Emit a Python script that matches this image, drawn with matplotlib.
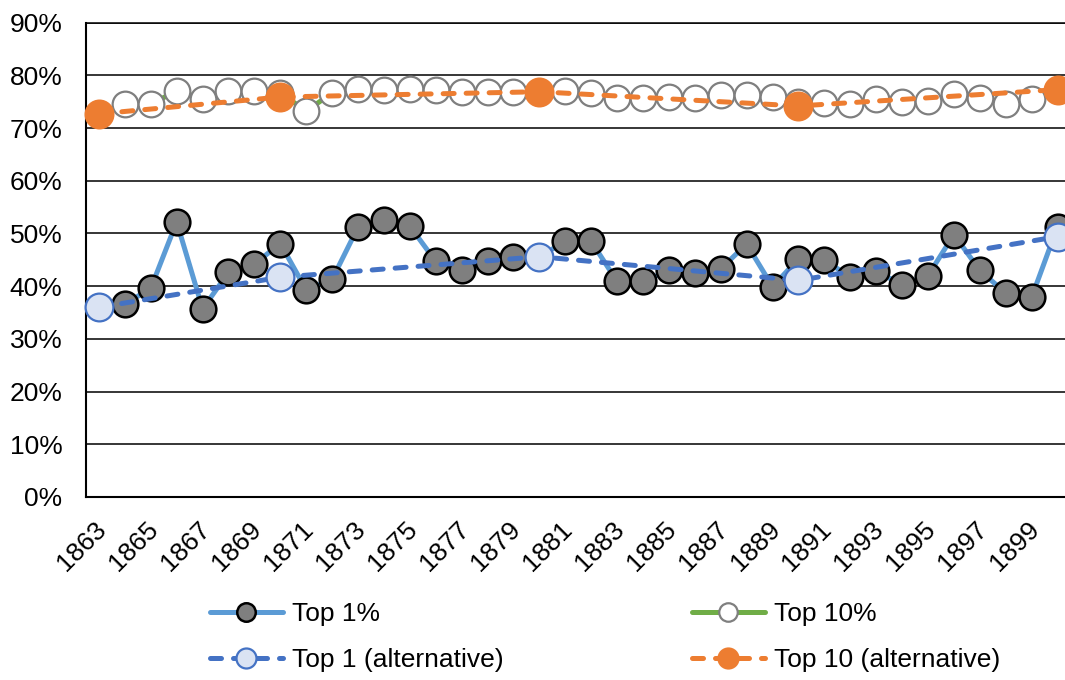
import numpy as np
import matplotlib
matplotlib.use("Agg")
import matplotlib.pyplot as plt
from matplotlib.ticker import FuncFormatter
from matplotlib.transforms import ScaledTranslation

plt.rcParams['font.family'] = ['Liberation Sans', 'DejaVu Sans']

years = list(range(1863, 1901))

top1 = [36.0, 36.6, 39.6, 52.2, 35.7, 42.6, 44.2, 48.1, 39.3, 41.3,
        51.2, 52.6, 51.4, 44.7, 43.1, 44.7, 45.6, 45.6, 48.5, 48.5,
        40.9, 40.9, 43.0, 42.5, 43.3, 48.0, 39.9, 45.2, 44.9, 41.8,
        42.8, 40.3, 42.0, 49.8, 43.0, 38.7, 37.9, 51.3]

top10 = [72.7, 74.6, 74.5, 77.1, 75.6, 77.1, 77.0, 76.7, 73.2, 76.7,
         77.4, 77.3, 77.4, 77.3, 76.9, 76.9, 76.9, 76.9, 77.0, 76.7,
         75.7, 75.7, 75.9, 75.7, 76.2, 76.3, 75.9, 75.0, 74.8, 74.5,
         75.6, 75.0, 75.1, 76.5, 75.7, 74.6, 75.6, 77.3]

alt_years = [1863, 1870, 1880, 1890, 1900]
top1_alt = [36.0, 41.7, 45.6, 41.1, 49.4]
top10_alt = [72.7, 75.9, 76.9, 74.2, 77.3]

xtick_years = list(range(1863, 1900, 2))
yticks = [0, 10, 20, 30, 40, 50, 60, 70, 80, 90]

W, H = 1065, 680
fig = plt.figure(figsize=(W / 100, H / 100), dpi=100)
ax = fig.add_axes([86 / W, 1 - 497 / H, 984.5 / W, (497 - 22.7) / H])

FS = 19

l1, = ax.plot(years, top1, color='#5B9BD5', lw=3.6, solid_capstyle='round',
              marker='o', ms=18.5, mfc='#7F7F7F', mec='black', mew=1.8, zorder=3,
              label='Top 1%')
l10, = ax.plot(years, top10, color='#70AD47', lw=3.6, solid_capstyle='round',
               marker='o', ms=18.5, mfc='white', mec='#7F7F7F', mew=1.6, zorder=4,
               label='Top 10%')
l1a, = ax.plot(alt_years, top1_alt, color='#4472C4', lw=3.6, ls=(0, (2.2, 2.4)),
               dash_capstyle='round', marker='o', ms=20, mfc='#DAE3F3', mec='#4472C4',
               mew=1.6, zorder=5, label='Top 1 (alternative)')
l10a, = ax.plot(alt_years, top10_alt, color='#ED7D31', lw=3.6, ls=(0, (2.2, 2.4)),
                dash_capstyle='round', marker='o', ms=20, mfc='#ED7D31', mec='#ED7D31',
                mew=1.6, zorder=6, label='Top 10 (alternative)')

for l in (l1, l10, l1a, l10a):
    l.set_clip_on(False)

ax.set_xlim(1862.5, 1900.5)
ax.set_ylim(0, 90)
ax.set_yticks(yticks)
ax.yaxis.set_major_formatter(FuncFormatter(lambda v, p: f"{int(round(v))}%"))
ax.set_xticks(xtick_years)
ax.set_xticklabels([str(y) for y in xtick_years], rotation=45, ha='right',
                   rotation_mode='anchor')
ax.tick_params(axis='y', length=0, pad=17, labelsize=FS, colors='black')
ax.tick_params(axis='x', length=0, pad=6, labelsize=FS, colors='black')
off = ScaledTranslation(-0.05, -0.12, fig.dpi_scale_trans)
for lab in ax.get_xticklabels():
    lab.set_transform(lab.get_transform() + off)

ax.grid(axis='y', color='black', lw=1.1, zorder=0)
ax.set_axisbelow(True)
ax.spines['right'].set_visible(False)
ax.spines['top'].set_color('black')
ax.spines['top'].set_linewidth(1.1)
ax.spines['left'].set_color('black')
ax.spines['left'].set_linewidth(1.5)
ax.spines['bottom'].set_color('black')
ax.spines['bottom'].set_linewidth(1.5)

common = dict(frameon=False, fontsize=FS, handlelength=2.75, handletextpad=0.35,
              labelspacing=0.83, borderpad=0, borderaxespad=0, markerscale=0.72,
              loc='center left')
leg1 = fig.legend(handles=[l1, l1a], bbox_to_anchor=(210 / W, 1 - 637 / H), **common)
leg2 = fig.legend(handles=[l10, l10a], bbox_to_anchor=(692 / W, 1 - 637 / H), **common)

fig.savefig('out.png', dpi=100)
